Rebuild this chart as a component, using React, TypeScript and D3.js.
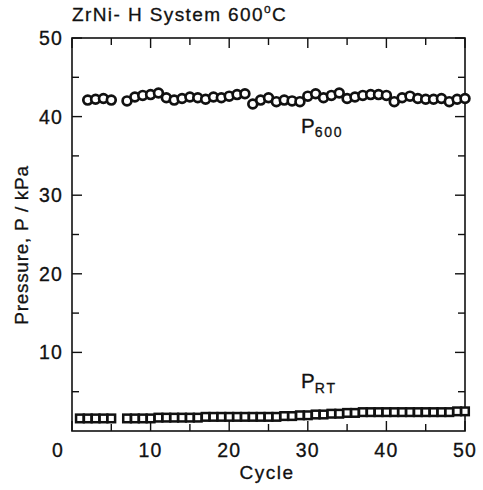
import React from 'react';
import * as d3 from 'd3';

// ZrNi-H system, pressure over cycles at 600 C
const p600Cycles = [2, 3, 4, 5, 7, 8, 9, 10, 11, 12, 13, 14, 15, 16, 17, 18, 19, 20, 21, 22, 23, 24, 25, 26, 27, 28, 29, 30, 31, 32, 33, 34, 35, 36, 37, 38, 39, 40, 41, 42, 43, 44, 45, 46, 47, 48, 49, 50];
const p600Values = [42.1, 42.2, 42.3, 42.1, 42.0, 42.5, 42.7, 42.8, 43.0, 42.4, 42.1, 42.3, 42.5, 42.4, 42.2, 42.5, 42.4, 42.6, 42.8, 42.9, 41.6, 42.1, 42.4, 41.9, 42.1, 42.0, 41.9, 42.6, 42.9, 42.4, 42.7, 43.0, 42.3, 42.5, 42.7, 42.8, 42.8, 42.7, 41.9, 42.4, 42.6, 42.3, 42.2, 42.2, 42.3, 41.9, 42.2, 42.3];

const pRTCycles = [1, 2, 3, 4, 5, 7, 8, 9, 10, 11, 12, 13, 14, 15, 16, 17, 18, 19, 20, 21, 22, 23, 24, 25, 26, 27, 28, 29, 30, 31, 32, 33, 34, 35, 36, 37, 38, 39, 40, 41, 42, 43, 44, 45, 46, 47, 48, 49, 50];
const pRTValues = [1.6, 1.6, 1.6, 1.6, 1.6, 1.6, 1.6, 1.6, 1.6, 1.7, 1.7, 1.7, 1.7, 1.7, 1.7, 1.8, 1.8, 1.8, 1.8, 1.8, 1.8, 1.8, 1.8, 1.8, 1.8, 1.9, 1.9, 2.0, 2.0, 2.1, 2.1, 2.2, 2.2, 2.3, 2.3, 2.4, 2.4, 2.4, 2.4, 2.4, 2.4, 2.4, 2.4, 2.4, 2.4, 2.4, 2.4, 2.5, 2.5];

const xMajor = [0, 10, 20, 30, 40, 50];
const xMinor = [5, 15, 25, 35, 45];
const yMajor = [10, 20, 30, 40, 50];
const yMinor = [5, 15, 25, 35, 45];

const FONT = 'Liberation Sans, Arial, sans-serif';
const INK = '#111';
// scanned type looks a bit heavier than plain regular
const textStyle = { fontFamily: FONT, fill: INK, stroke: INK, strokeWidth: 0.3 };

const App = () => {
  const x = d3.scaleLinear().domain([0, 50]).range([72, 465]);
  const y = d3.scaleLinear().domain([0, 50]).range([431, 38]);
  const [x0, x1] = x.range();
  const [y0, y1] = y.range();
  const major = 10;
  const minor = 7;

  return (
    <div style={{ position: 'absolute', left: 0, top: 0 }}>
      <svg width={483} height={490} style={{ display: 'block', background: '#fff' }}>
        {/* title */}
        <text x={72} y={21} fontSize={19} letterSpacing={1.4} style={textStyle}>
          ZrNi- H System 600<tspan fontSize={12} dy={-8}>o</tspan><tspan dy={8}>C</tspan>
        </text>

        {/* frame */}
        <rect x={x0} y={y1} width={x1 - x0} height={y0 - y1} fill="none" stroke={INK} strokeWidth={1.6} />

        {/* ticks on all four sides, pointing inward */}
        <g stroke={INK} strokeWidth={1.4}>
          {xMajor.concat(xMinor).map(t => {
            const len = xMajor.includes(t) ? major : minor;
            return (
              <g key={'x' + t}>
                <line x1={x(t)} x2={x(t)} y1={y0} y2={y0 - len} />
                <line x1={x(t)} x2={x(t)} y1={y1} y2={y1 + len} />
              </g>
            );
          })}
          {yMajor.concat(yMinor).map(t => {
            const len = yMajor.includes(t) ? major : minor;
            return (
              <g key={'y' + t}>
                <line x1={x0} x2={x0 + len} y1={y(t)} y2={y(t)} />
                <line x1={x1} x2={x1 - len} y1={y(t)} y2={y(t)} />
              </g>
            );
          })}
        </g>

        {/* tick labels */}
        <g fontSize={19.5} letterSpacing={1.2} style={textStyle}>
          {xMajor.map(t => (
            <text key={'xl' + t} x={x(t) + (t === 0 ? -14 : 0)} y={457} textAnchor="middle">{t}</text>
          ))}
          {yMajor.map(t => (
            <text key={'yl' + t} x={63} y={y(t)} dy="0.36em" textAnchor="end">{t}</text>
          ))}
        </g>

        {/* axis titles */}
        <text x={267} y={479} textAnchor="middle" fontSize={19} letterSpacing={1.5} style={textStyle}>Cycle</text>
        <text transform={`translate(28,${245}) rotate(-90)`} textAnchor="middle" fontSize={19} letterSpacing={0.7} style={textStyle}>Pressure, P / kPa</text>

        {/* P600 circles */}
        <g fill="#fff" stroke={INK} strokeWidth={2.7}>
          {p600Cycles.map((c, i) => (
            <circle key={'c' + c} cx={x(c)} cy={y(p600Values[i])} r={4.4} />
          ))}
        </g>

        {/* PRT squares */}
        <g fill="#fff" stroke={INK} strokeWidth={2.5}>
          {pRTCycles.map((c, i) => (
            <rect key={'s' + c} x={x(c) - 3.8} y={y(pRTValues[i]) - 3.8} width={7.6} height={7.6} />
          ))}
        </g>

        {/* series labels */}
        <text x={301} y={133} fontSize={20.5} style={textStyle}>
          P<tspan fontSize={14} letterSpacing={1.8} dy={4}>600</tspan>
        </text>
        <text x={301} y={388} fontSize={20.5} style={textStyle}>
          P<tspan fontSize={14} letterSpacing={2} dy={5}>RT</tspan>
        </text>
      </svg>
    </div>
  );
};

export default App;
